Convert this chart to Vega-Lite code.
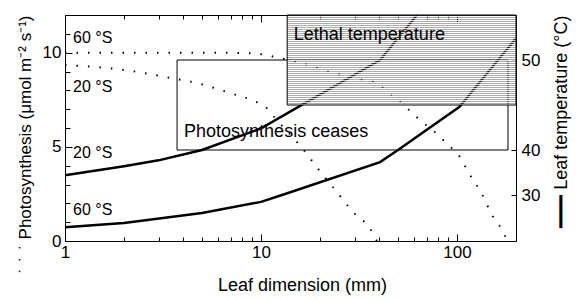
{
  "$schema": "https://vega.github.io/schema/vega-lite/v6.json",
  "width": 451,
  "height": 226,
  "autosize": "none",
  "padding": {"left": 65, "top": 15, "right": 60, "bottom": 59},
  "config": {
    "view": {"stroke": null},
    "font": "Liberation Sans",
    "axis": {
      "domainColor": "black", "tickColor": "black", "labelColor": "black", "titleColor": "black",
      "labelFont": "Liberation Sans", "titleFont": "Liberation Sans",
      "labelFontSize": 17, "titleFontSize": 18, "titleFontWeight": "normal",
      "grid": false, "domainWidth": 1, "tickWidth": 1, "labelFlush": false, "labelOverlap": false
    }
  },
  "layer": [
    {
      "layer": [
        {
          "data": {"values": [{"region": "Photosynthesis ceases", "mm_from": 3.73, "mm_to": 182, "temp_from": 40, "temp_to": 50}]},
          "mark": {"type": "rect", "fillOpacity": 0, "stroke": "black", "strokeWidth": 1},
          "encoding": {
            "x": {"field": "mm_from", "type": "quantitative", "scale": {"type": "log", "domain": [1, 200], "nice": false}, "axis": null},
            "x2": {"field": "mm_to"},
            "y": {"field": "temp_from", "type": "quantitative", "scale": {"type": "linear", "domain": [20, 30, 40, 50, 55], "range": [226, 180, 135, 45, 0], "nice": false, "zero": false}, "axis": null},
            "y2": {"field": "temp_to"}
          }
        },
        {
          "data": {"values": [{"label": "Photosynthesis ceases", "mm": 4.05, "temp": 42}]},
          "mark": {"type": "text", "align": "left", "baseline": "middle", "fontSize": 18, "font": "Liberation Sans", "color": "black"},
          "encoding": {
            "x": {"field": "mm", "type": "quantitative", "scale": {"type": "log", "domain": [1, 200], "nice": false}, "axis": null},
            "y": {"field": "temp", "type": "quantitative", "scale": {"type": "linear", "domain": [20, 30, 40, 50, 55], "range": [226, 180, 135, 45, 0], "nice": false, "zero": false}, "axis": null},
            "text": {"field": "label"}
          }
        }
      ]
    },
    {
      "layer": [
        {
          "data": {"values": [
            {"site": "60 °S", "mm": 1, "photo": 10.0},
            {"site": "60 °S", "mm": 2, "photo": 10.0},
            {"site": "60 °S", "mm": 5, "photo": 10.0},
            {"site": "60 °S", "mm": 8, "photo": 9.98},
            {"site": "60 °S", "mm": 10, "photo": 9.92},
            {"site": "60 °S", "mm": 12, "photo": 9.75},
            {"site": "60 °S", "mm": 15.3, "photo": 9.5},
            {"site": "60 °S", "mm": 19.5, "photo": 9.2},
            {"site": "60 °S", "mm": 25, "photo": 8.85},
            {"site": "60 °S", "mm": 31.3, "photo": 8.6},
            {"site": "60 °S", "mm": 39.5, "photo": 8.37},
            {"site": "60 °S", "mm": 44.5, "photo": 7.91},
            {"site": "60 °S", "mm": 50, "photo": 7.49},
            {"site": "60 °S", "mm": 63, "photo": 6.53},
            {"site": "60 °S", "mm": 80, "photo": 5.63},
            {"site": "60 °S", "mm": 90, "photo": 5.1},
            {"site": "60 °S", "mm": 101, "photo": 4.62},
            {"site": "60 °S", "mm": 115, "photo": 3.61},
            {"site": "60 °S", "mm": 133, "photo": 2.55},
            {"site": "60 °S", "mm": 151, "photo": 1.38},
            {"site": "60 °S", "mm": 174, "photo": 0.37},
            {"site": "60 °S", "mm": 180, "photo": 0},
            {"site": "20 °S", "mm": 1, "photo": 9.35},
            {"site": "20 °S", "mm": 2, "photo": 9.08},
            {"site": "20 °S", "mm": 3.7, "photo": 8.6},
            {"site": "20 °S", "mm": 4.7, "photo": 8.39},
            {"site": "20 °S", "mm": 6, "photo": 8.07},
            {"site": "20 °S", "mm": 7.5, "photo": 7.75},
            {"site": "20 °S", "mm": 9.5, "photo": 7.38},
            {"site": "20 °S", "mm": 10.7, "photo": 7.06},
            {"site": "20 °S", "mm": 11.8, "photo": 6.53},
            {"site": "20 °S", "mm": 16.2, "photo": 4.94},
            {"site": "20 °S", "mm": 19.6, "photo": 3.82},
            {"site": "20 °S", "mm": 23.9, "photo": 2.71},
            {"site": "20 °S", "mm": 29.5, "photo": 1.54},
            {"site": "20 °S", "mm": 36.4, "photo": 0.58},
            {"site": "20 °S", "mm": 39, "photo": 0}
          ]},
          "mark": {"type": "line", "color": "black", "strokeWidth": 2, "strokeDash": [1.5, 10], "strokeCap": "butt", "interpolate": "monotone"},
          "encoding": {
            "x": {"field": "mm", "type": "quantitative", "scale": {"type": "log", "domain": [1, 200], "nice": false},
                  "axis": {"orient": "bottom", "values": [1, 2, 3, 4, 5, 6, 7, 8, 9, 10, 20, 30, 40, 50, 60, 70, 80, 90, 100, 200],
                           "labelExpr": "datum.value==1?'1':datum.value==10?'10':datum.value==100?'100':''",
                           "tickSize": {"condition": {"test": "datum.value==1||datum.value==10||datum.value==100", "value": -7}, "value": -4},
                           "labelPadding": 10, "title": "Leaf dimension (mm)", "titlePadding": 13, "titleX": 237}},
            "y": {"field": "photo", "type": "quantitative", "scale": {"domain": [0, 12], "nice": false},
                  "axis": {"orient": "left", "values": [0, 1, 2, 3, 4, 5, 6, 7, 8, 9, 10, 11, 12],
                           "labelExpr": "datum.value % 5 == 0 ? datum.label : ''",
                           "tickSize": {"condition": {"test": "datum.value % 5 == 0", "value": -7}, "value": -5},
                           "labelPadding": 11, "title": "˙ \u200a˙ \u200a˙    Photosynthesis (μmol m⁻² s⁻¹)", "titleFontSize": 17,
                           "titleAnchor": "end", "titleAlign": "right", "titlePadding": 8}},
            "detail": {"field": "site"}
          }
        },
        {
          "data": {"values": [
            {"label": "60 °S", "mm": 1.1, "photo": 10.78},
            {"label": "20 °S", "mm": 1.1, "photo": 8.18},
            {"label": "20 °S", "mm": 1.1, "photo": 4.67},
            {"label": "60 °S", "mm": 1.1, "photo": 1.65}
          ]},
          "mark": {"type": "text", "align": "left", "baseline": "middle", "fontSize": 16, "font": "Liberation Sans", "color": "black"},
          "encoding": {
            "x": {"field": "mm", "type": "quantitative", "scale": {"type": "log", "domain": [1, 200], "nice": false},
                  "axis": {"orient": "bottom", "values": [1, 2, 3, 4, 5, 6, 7, 8, 9, 10, 20, 30, 40, 50, 60, 70, 80, 90, 100, 200],
                           "labelExpr": "datum.value==1?'1':datum.value==10?'10':datum.value==100?'100':''",
                           "tickSize": {"condition": {"test": "datum.value==1||datum.value==10||datum.value==100", "value": -7}, "value": -4},
                           "labelPadding": 10, "title": "Leaf dimension (mm)", "titlePadding": 13, "titleX": 237}},
            "y": {"field": "photo", "type": "quantitative", "scale": {"domain": [0, 12], "nice": false},
                  "axis": {"orient": "left", "values": [0, 1, 2, 3, 4, 5, 6, 7, 8, 9, 10, 11, 12],
                           "labelExpr": "datum.value % 5 == 0 ? datum.label : ''",
                           "tickSize": {"condition": {"test": "datum.value % 5 == 0", "value": -7}, "value": -5},
                           "labelPadding": 11, "title": "˙ \u200a˙ \u200a˙    Photosynthesis (μmol m⁻² s⁻¹)", "titleFontSize": 17,
                           "titleAnchor": "end", "titleAlign": "right", "titlePadding": 8}},
            "text": {"field": "label"}
          }
        }
      ]
    },
    {
      "layer": [
        {
          "data": {"values": [
            {"site": "20 °S", "mm": 1, "temp": 34.4},
            {"site": "20 °S", "mm": 2, "temp": 36.4},
            {"site": "20 °S", "mm": 3, "temp": 37.7},
            {"site": "20 °S", "mm": 5, "temp": 40},
            {"site": "20 °S", "mm": 10, "temp": 42.4},
            {"site": "20 °S", "mm": 40.5, "temp": 50},
            {"site": "20 °S", "mm": 62.5, "temp": 55},
            {"site": "60 °S", "mm": 1, "temp": 23.0},
            {"site": "60 °S", "mm": 2, "temp": 23.9},
            {"site": "60 °S", "mm": 5, "temp": 26.1},
            {"site": "60 °S", "mm": 10, "temp": 28.5},
            {"site": "60 °S", "mm": 12.8, "temp": 30},
            {"site": "60 °S", "mm": 40.5, "temp": 37.3},
            {"site": "60 °S", "mm": 50, "temp": 40},
            {"site": "60 °S", "mm": 103, "temp": 44.8},
            {"site": "60 °S", "mm": 162, "temp": 50},
            {"site": "60 °S", "mm": 200, "temp": 52.4}
          ]},
          "mark": {"type": "line", "color": "black", "strokeWidth": 2.5},
          "encoding": {
            "x": {"field": "mm", "type": "quantitative", "scale": {"type": "log", "domain": [1, 200], "nice": false},
                  "axis": {"orient": "top", "values": [1, 2, 3, 4, 5, 6, 7, 8, 9, 10, 20, 30, 40, 50, 60, 70, 80, 90, 100, 200], "labels": false,
                           "tickSize": {"condition": {"test": "datum.value==1||datum.value==10||datum.value==100", "value": -7}, "value": -4}, "title": null}},
            "y": {"field": "temp", "type": "quantitative", "scale": {"type": "linear", "domain": [20, 30, 40, 50, 55], "range": [226, 180, 135, 45, 0], "nice": false, "zero": false},
                  "axis": {"orient": "right", "values": [30, 40, 50], "tickSize": -5, "labelPadding": 10,
                           "title": "━━━ Leaf temperature (°C)", "titleAngle": -90, "titleAlign": "right", "titleBaseline": "top", "titleAnchor": "end", "titlePadding": 13}},
            "detail": {"field": "site"}
          }
        },
        {
          "data": {"values": [{"region": "Lethal temperature", "mm_from": 13.6, "mm_to": 200, "temp_from": 45, "temp_to": 55}]},
          "mark": {"type": "rect", "strokeWidth": 0, "fill": {"gradient": "linear", "x1": 0, "y1": 0, "x2": 0, "y2": 1, "stops": [
            {"offset": 0.0056, "color": "rgba(90,90,90,0.5)"}, {"offset": 0.0167, "color": "rgba(255,255,255,0.85)"},
            {"offset": 0.0278, "color": "rgba(90,90,90,0.5)"}, {"offset": 0.0389, "color": "rgba(255,255,255,0.85)"},
            {"offset": 0.0500, "color": "rgba(90,90,90,0.5)"}, {"offset": 0.0611, "color": "rgba(255,255,255,0.85)"},
            {"offset": 0.0722, "color": "rgba(90,90,90,0.5)"}, {"offset": 0.0833, "color": "rgba(255,255,255,0.85)"},
            {"offset": 0.0944, "color": "rgba(90,90,90,0.5)"}, {"offset": 0.1056, "color": "rgba(255,255,255,0.85)"},
            {"offset": 0.1167, "color": "rgba(90,90,90,0.5)"}, {"offset": 0.1278, "color": "rgba(255,255,255,0.85)"},
            {"offset": 0.1389, "color": "rgba(90,90,90,0.5)"}, {"offset": 0.1500, "color": "rgba(255,255,255,0.85)"},
            {"offset": 0.1611, "color": "rgba(90,90,90,0.5)"}, {"offset": 0.1722, "color": "rgba(255,255,255,0.85)"},
            {"offset": 0.1833, "color": "rgba(90,90,90,0.5)"}, {"offset": 0.1944, "color": "rgba(255,255,255,0.85)"},
            {"offset": 0.2056, "color": "rgba(90,90,90,0.5)"}, {"offset": 0.2167, "color": "rgba(255,255,255,0.85)"},
            {"offset": 0.2278, "color": "rgba(90,90,90,0.5)"}, {"offset": 0.2389, "color": "rgba(255,255,255,0.85)"},
            {"offset": 0.2500, "color": "rgba(90,90,90,0.5)"}, {"offset": 0.2611, "color": "rgba(255,255,255,0.85)"},
            {"offset": 0.2722, "color": "rgba(90,90,90,0.5)"}, {"offset": 0.2833, "color": "rgba(255,255,255,0.85)"},
            {"offset": 0.2944, "color": "rgba(90,90,90,0.5)"}, {"offset": 0.3056, "color": "rgba(255,255,255,0.85)"},
            {"offset": 0.3167, "color": "rgba(90,90,90,0.5)"}, {"offset": 0.3278, "color": "rgba(255,255,255,0.85)"},
            {"offset": 0.3389, "color": "rgba(90,90,90,0.5)"}, {"offset": 0.3500, "color": "rgba(255,255,255,0.85)"},
            {"offset": 0.3611, "color": "rgba(90,90,90,0.5)"}, {"offset": 0.3722, "color": "rgba(255,255,255,0.85)"},
            {"offset": 0.3833, "color": "rgba(90,90,90,0.5)"}, {"offset": 0.3944, "color": "rgba(255,255,255,0.85)"},
            {"offset": 0.4056, "color": "rgba(90,90,90,0.5)"}, {"offset": 0.4167, "color": "rgba(255,255,255,0.85)"},
            {"offset": 0.4278, "color": "rgba(90,90,90,0.5)"}, {"offset": 0.4389, "color": "rgba(255,255,255,0.85)"},
            {"offset": 0.4500, "color": "rgba(90,90,90,0.5)"}, {"offset": 0.4611, "color": "rgba(255,255,255,0.85)"},
            {"offset": 0.4722, "color": "rgba(90,90,90,0.5)"}, {"offset": 0.4833, "color": "rgba(255,255,255,0.85)"},
            {"offset": 0.4944, "color": "rgba(90,90,90,0.5)"}, {"offset": 0.5056, "color": "rgba(255,255,255,0.85)"},
            {"offset": 0.5167, "color": "rgba(90,90,90,0.5)"}, {"offset": 0.5278, "color": "rgba(255,255,255,0.85)"},
            {"offset": 0.5389, "color": "rgba(90,90,90,0.5)"}, {"offset": 0.5500, "color": "rgba(255,255,255,0.85)"},
            {"offset": 0.5611, "color": "rgba(90,90,90,0.5)"}, {"offset": 0.5722, "color": "rgba(255,255,255,0.85)"},
            {"offset": 0.5833, "color": "rgba(90,90,90,0.5)"}, {"offset": 0.5944, "color": "rgba(255,255,255,0.85)"},
            {"offset": 0.6056, "color": "rgba(90,90,90,0.5)"}, {"offset": 0.6167, "color": "rgba(255,255,255,0.85)"},
            {"offset": 0.6278, "color": "rgba(90,90,90,0.5)"}, {"offset": 0.6389, "color": "rgba(255,255,255,0.85)"},
            {"offset": 0.6500, "color": "rgba(90,90,90,0.5)"}, {"offset": 0.6611, "color": "rgba(255,255,255,0.85)"},
            {"offset": 0.6722, "color": "rgba(90,90,90,0.5)"}, {"offset": 0.6833, "color": "rgba(255,255,255,0.85)"},
            {"offset": 0.6944, "color": "rgba(90,90,90,0.5)"}, {"offset": 0.7056, "color": "rgba(255,255,255,0.85)"},
            {"offset": 0.7167, "color": "rgba(90,90,90,0.5)"}, {"offset": 0.7278, "color": "rgba(255,255,255,0.85)"},
            {"offset": 0.7389, "color": "rgba(90,90,90,0.5)"}, {"offset": 0.7500, "color": "rgba(255,255,255,0.85)"},
            {"offset": 0.7611, "color": "rgba(90,90,90,0.5)"}, {"offset": 0.7722, "color": "rgba(255,255,255,0.85)"},
            {"offset": 0.7833, "color": "rgba(90,90,90,0.5)"}, {"offset": 0.7944, "color": "rgba(255,255,255,0.85)"},
            {"offset": 0.8056, "color": "rgba(90,90,90,0.5)"}, {"offset": 0.8167, "color": "rgba(255,255,255,0.85)"},
            {"offset": 0.8278, "color": "rgba(90,90,90,0.5)"}, {"offset": 0.8389, "color": "rgba(255,255,255,0.85)"},
            {"offset": 0.8500, "color": "rgba(90,90,90,0.5)"}, {"offset": 0.8611, "color": "rgba(255,255,255,0.85)"},
            {"offset": 0.8722, "color": "rgba(90,90,90,0.5)"}, {"offset": 0.8833, "color": "rgba(255,255,255,0.85)"},
            {"offset": 0.8944, "color": "rgba(90,90,90,0.5)"}, {"offset": 0.9056, "color": "rgba(255,255,255,0.85)"},
            {"offset": 0.9167, "color": "rgba(90,90,90,0.5)"}, {"offset": 0.9278, "color": "rgba(255,255,255,0.85)"},
            {"offset": 0.9389, "color": "rgba(90,90,90,0.5)"}, {"offset": 0.9500, "color": "rgba(255,255,255,0.85)"},
            {"offset": 0.9611, "color": "rgba(90,90,90,0.5)"}, {"offset": 0.9722, "color": "rgba(255,255,255,0.85)"},
            {"offset": 0.9833, "color": "rgba(90,90,90,0.5)"}, {"offset": 0.9944, "color": "rgba(255,255,255,0.85)"}
          ]}},
          "encoding": {
            "x": {"field": "mm_from", "type": "quantitative", "scale": {"type": "log", "domain": [1, 200], "nice": false},
                  "axis": {"orient": "top", "values": [1, 2, 3, 4, 5, 6, 7, 8, 9, 10, 20, 30, 40, 50, 60, 70, 80, 90, 100, 200], "labels": false,
                           "tickSize": {"condition": {"test": "datum.value==1||datum.value==10||datum.value==100", "value": -7}, "value": -4}, "title": null}},
            "x2": {"field": "mm_to"},
            "y": {"field": "temp_from", "type": "quantitative", "scale": {"type": "linear", "domain": [20, 30, 40, 50, 55], "range": [226, 180, 135, 45, 0], "nice": false, "zero": false},
                  "axis": {"orient": "right", "values": [30, 40, 50], "tickSize": -5, "labelPadding": 10,
                           "title": "━━━ Leaf temperature (°C)", "titleAngle": -90, "titleAlign": "right", "titleBaseline": "top", "titleAnchor": "end", "titlePadding": 13}},
            "y2": {"field": "temp_to"}
          }
        },
        {
          "data": {"values": [{"region": "Lethal temperature", "mm_from": 13.6, "mm_to": 200, "temp_from": 45, "temp_to": 55}]},
          "mark": {"type": "rect", "fillOpacity": 0, "stroke": "black", "strokeWidth": 1},
          "encoding": {
            "x": {"field": "mm_from", "type": "quantitative", "scale": {"type": "log", "domain": [1, 200], "nice": false},
                  "axis": {"orient": "top", "values": [1, 2, 3, 4, 5, 6, 7, 8, 9, 10, 20, 30, 40, 50, 60, 70, 80, 90, 100, 200], "labels": false,
                           "tickSize": {"condition": {"test": "datum.value==1||datum.value==10||datum.value==100", "value": -7}, "value": -4}, "title": null}},
            "x2": {"field": "mm_to"},
            "y": {"field": "temp_from", "type": "quantitative", "scale": {"type": "linear", "domain": [20, 30, 40, 50, 55], "range": [226, 180, 135, 45, 0], "nice": false, "zero": false},
                  "axis": {"orient": "right", "values": [30, 40, 50], "tickSize": -5, "labelPadding": 10,
                           "title": "━━━ Leaf temperature (°C)", "titleAngle": -90, "titleAlign": "right", "titleBaseline": "top", "titleAnchor": "end", "titlePadding": 13}},
            "y2": {"field": "temp_to"}
          }
        },
        {
          "data": {"values": [{"label": "Lethal temperature", "mm": 14.7, "temp": 52.8}]},
          "mark": {"type": "text", "align": "left", "baseline": "middle", "fontSize": 18, "font": "Liberation Sans", "color": "black"},
          "encoding": {
            "x": {"field": "mm", "type": "quantitative", "scale": {"type": "log", "domain": [1, 200], "nice": false},
                  "axis": {"orient": "top", "values": [1, 2, 3, 4, 5, 6, 7, 8, 9, 10, 20, 30, 40, 50, 60, 70, 80, 90, 100, 200], "labels": false,
                           "tickSize": {"condition": {"test": "datum.value==1||datum.value==10||datum.value==100", "value": -7}, "value": -4}, "title": null}},
            "y": {"field": "temp", "type": "quantitative", "scale": {"type": "linear", "domain": [20, 30, 40, 50, 55], "range": [226, 180, 135, 45, 0], "nice": false, "zero": false},
                  "axis": {"orient": "right", "values": [30, 40, 50], "tickSize": -5, "labelPadding": 10,
                           "title": "━━━ Leaf temperature (°C)", "titleAngle": -90, "titleAlign": "right", "titleBaseline": "top", "titleAnchor": "end", "titlePadding": 13}},
            "text": {"field": "label"}
          }
        }
      ]
    }
  ],
  "resolve": {"scale": {"y": "independent"}, "axis": {"x": "independent"}}
}
